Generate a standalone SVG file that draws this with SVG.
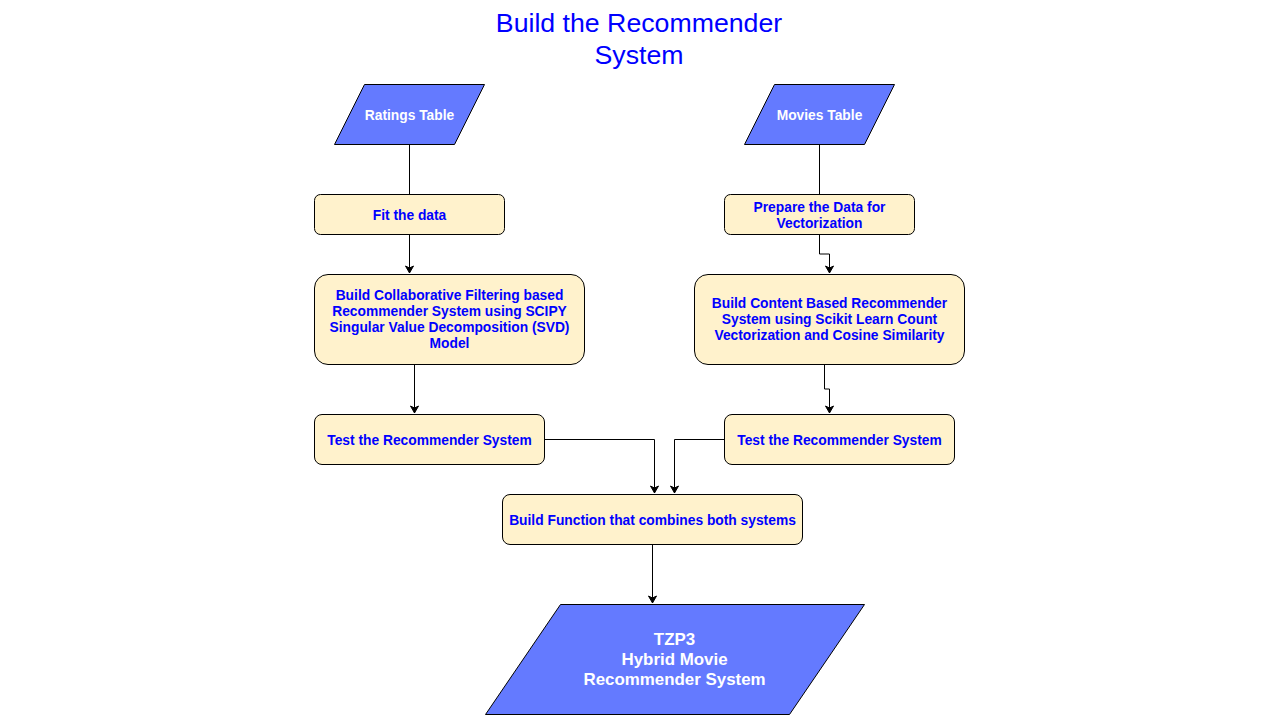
<svg xmlns="http://www.w3.org/2000/svg" width="1280" height="720" viewBox="0 0 1280 720">
<defs>
<marker id="arr" markerWidth="10" markerHeight="10" refX="8" refY="5" orient="auto" markerUnits="userSpaceOnUse">
<path d="M1,1 L8,5 L1,9 L3,5 Z" fill="#000" stroke="#000" stroke-width="1"/>
</marker>
<style>
.para{fill:#647AFF;stroke:#000;stroke-width:1}
.box{fill:#FFF2CC;stroke:#000;stroke-width:1}
.lt{font-family:"Liberation Sans",Arial,sans-serif;font-weight:bold;font-size:13.8px;fill:#0000FF;text-anchor:middle}
.wt{font-family:"Liberation Sans",Arial,sans-serif;font-weight:bold;font-size:13.8px;fill:#FFFFFF;text-anchor:middle}
.big{font-size:16.9px}
.title{font-family:"Liberation Sans",Arial,sans-serif;font-size:26.7px;fill:#0000FF;text-anchor:middle}
.con{fill:none;stroke:#000;stroke-width:1}
</style>
</defs>
<rect width="1280" height="720" fill="#FFFFFF"/>
<g id="title">
<text class="title" x="639" y="32">Build the Recommender</text>
<text class="title" x="639" y="64">System</text>
</g>
<g id="connectors">
<path class="con" d="M409.5,144 V194"/>
<path class="con" d="M819.5,144 V194"/>
<path class="con" d="M409.5,234 V273" marker-end="url(#arr)"/>
<path class="con" d="M819.5,234 V254 H829.5 V273" marker-end="url(#arr)"/>
<path class="con" d="M414.5,364 V413" marker-end="url(#arr)"/>
<path class="con" d="M824.5,364 V389 H829.5 V413" marker-end="url(#arr)"/>
<path class="con" d="M544,439.5 H654.5 V493" marker-end="url(#arr)"/>
<path class="con" d="M724,439.5 H674.5 V493" marker-end="url(#arr)"/>
<path class="con" d="M652.5,544 V603" marker-end="url(#arr)"/>
</g>
<g id="ratings">
<polygon class="para" points="364.5,84.5 484.5,84.5 454.5,144.5 334.5,144.5"/>
<text class="wt" x="409.5" y="120">Ratings Table</text>
</g>
<g id="movies">
<polygon class="para" points="774.5,84.5 894.5,84.5 864.5,144.5 744.5,144.5"/>
<text class="wt" x="819.5" y="120">Movies Table</text>
</g>
<g id="fit">
<rect class="box" x="314.5" y="194.5" width="190" height="40" rx="6"/>
<text class="lt" x="409.5" y="220">Fit the data</text>
</g>
<g id="prepare">
<rect class="box" x="724.5" y="194.5" width="190" height="40" rx="6"/>
<text class="lt" x="819.5" y="212">Prepare the Data for</text>
<text class="lt" x="819.5" y="228">Vectorization</text>
</g>
<g id="collab">
<rect class="box" x="314.5" y="274.5" width="270" height="90" rx="13.5"/>
<text class="lt" x="449.5" y="300">Build Collaborative Filtering based</text>
<text class="lt" x="449.5" y="316">Recommender System using SCIPY</text>
<text class="lt" x="449.5" y="332">Singular Value Decomposition (SVD)</text>
<text class="lt" x="449.5" y="348">Model</text>
</g>
<g id="content">
<rect class="box" x="694.5" y="274.5" width="270" height="90" rx="13.5"/>
<text class="lt" x="829.5" y="308">Build Content Based Recommender</text>
<text class="lt" x="829.5" y="324">System using Scikit Learn Count</text>
<text class="lt" x="829.5" y="340">Vectorization and Cosine Similarity</text>
</g>
<g id="test1">
<rect class="box" x="314.5" y="414.5" width="230" height="50" rx="7.5"/>
<text class="lt" x="429.5" y="445">Test the Recommender System</text>
</g>
<g id="test2">
<rect class="box" x="724.5" y="414.5" width="230" height="50" rx="7.5"/>
<text class="lt" x="839.5" y="445">Test the Recommender System</text>
</g>
<g id="combine">
<rect class="box" x="502.5" y="494.5" width="300" height="50" rx="7.5"/>
<text class="lt" x="652.5" y="525">Build Function that combines both systems</text>
</g>
<g id="tzp3">
<polygon class="para" points="560.5,604.5 864.5,604.5 789.5,714.5 485.5,714.5"/>
<text class="wt big" x="674.5" y="645">TZP3</text>
<text class="wt big" x="674.5" y="665">Hybrid Movie</text>
<text class="wt big" x="674.5" y="685">Recommender System</text>
</g>
</svg>
